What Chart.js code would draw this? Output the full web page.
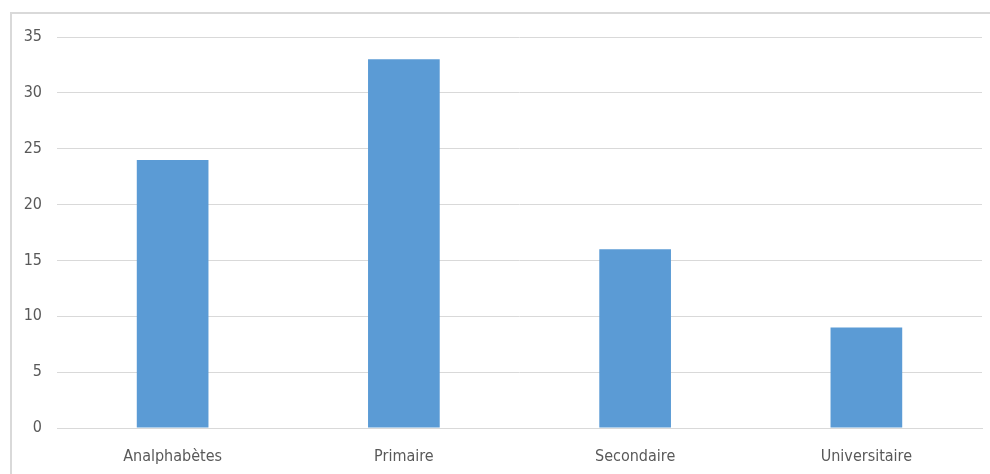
<!DOCTYPE html>
<html>
<head>
<meta charset="utf-8">
<script src="https://cdn.jsdelivr.net/npm/chart.js@4"></script>
<style>
  html, body { margin: 0; padding: 0; background: #fff; overflow: hidden; }
  #frame { position: absolute; left: 10px; top: 12px; width: 1100px; height: 600px; border: 2px solid #d9d9d9; }
  #wrap { position: absolute; left: 0; top: 0; width: 990px; height: 474px; }
</style>
</head>
<body>
<div id="frame"></div>
<div id="wrap"><canvas id="levelChart"></canvas></div>
<script>
// Niveau d'instruction: bar chart
const categories = ['Analphabètes', 'Primaire', 'Secondaire', 'Universitaire'];
const values = [24, 33, 16, 9];
const yTicks = [0, 5, 10, 15, 20, 25, 30, 35];

const font = { family: "'Liberation Sans Narrow', 'DejaVu Sans Condensed', 'Noto Sans', sans-serif", size: 16 };

new Chart(document.getElementById('levelChart'), {
  type: 'bar',
  data: {
    labels: categories,
    datasets: [{ data: values, backgroundColor: '#5b9bd5', borderWidth: 0, categoryPercentage: 1, barPercentage: 0.31 }]
  },
  options: {
    responsive: true,
    maintainAspectRatio: false,
    animation: false,
    layout: { padding: { top: 37, right: 8, left: 0, bottom: 0 } },
    plugins: { legend: { display: false }, tooltip: { enabled: false } },
    scales: {
      x: {
        grid: { display: false },
        border: { color: '#d9d9d9', width: 1 },
        ticks: { color: '#595959', font: font, padding: 11 },
        afterFit: s => { s.height = 46; }
      },
      y: {
        min: 0,
        max: 35,
        afterBuildTicks: s => { s.ticks = yTicks.map(v => ({ value: v })); },
        grid: { color: '#d9d9d9', drawTicks: false },
        border: { display: false },
        ticks: { color: '#595959', font: font, padding: 15 },
        afterFit: s => { s.width = 57; }
      }
    }
  }
});
</script>
</body>
</html>
